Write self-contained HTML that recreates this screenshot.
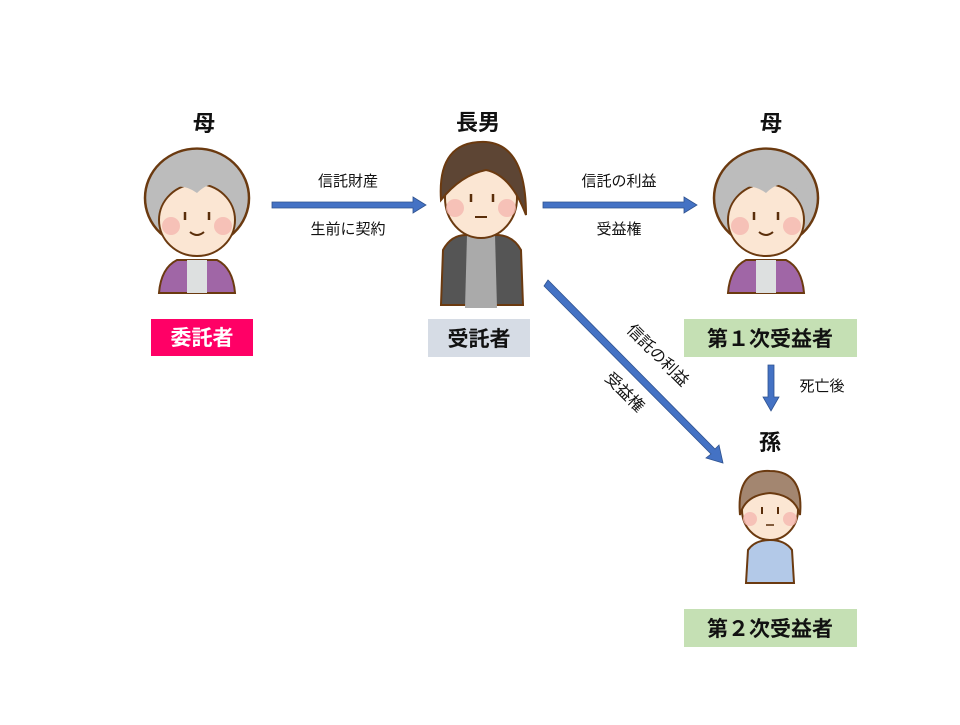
<!DOCTYPE html>
<html><head><meta charset="utf-8"><style>
body{margin:0;background:#fff;}
svg text{font-family:"Liberation Sans","Noto Sans CJK JP",sans-serif;}
</style></head><body>
<svg width="960" height="720" viewBox="0 0 960 720" xmlns="http://www.w3.org/2000/svg">
<rect width="960" height="720" fill="#fff"/>
<defs>
<g id="mom">
  <path d="M-38,95 Q-36,70 -20,62 L20,62 Q36,70 38,95 Z" fill="#a066a6" stroke="#6b3a10" stroke-width="2"/>
  <rect x="-10" y="62" width="20" height="33" fill="#dde0e0"/>
  <circle cx="0" cy="0" r="52" fill="#bcbcbc" stroke="#6b3a10" stroke-width="2.5" transform="scale(1,0.95)"/>
  <ellipse cx="0" cy="22" rx="38" ry="36" fill="#fbe6d3" stroke="#6b3a10" stroke-width="2"/>
  <path d="M-40,0 Q-20,-20 0,-5 Q20,-25 40,0 L40,-30 L-40,-30Z" fill="#bcbcbc"/>
  <circle cx="-26" cy="28" r="9" fill="#f5b8b0" opacity="0.8"/>
  <circle cx="26" cy="28" r="9" fill="#f5b8b0" opacity="0.8"/>
  <line x1="-12" y1="14" x2="-12" y2="22" stroke="#5a2e0a" stroke-width="2.5"/>
  <line x1="12" y1="14" x2="12" y2="22" stroke="#5a2e0a" stroke-width="2.5"/>
  <path d="M-7,34 Q0,40 7,34" fill="none" stroke="#5a2e0a" stroke-width="2"/>
</g>
</defs>
<g font-size="22" font-weight="bold" text-anchor="middle" fill="#111">
<text x="204" y="131">母</text>
<text x="478" y="130">長男</text>
<text x="771" y="131">母</text>
<text x="770" y="450">孫</text>
</g>
<use href="#mom" x="197" y="198"/>
<use href="#mom" x="766" y="198"/>
<g transform="translate(481,190)">
  <path d="M-40,115 L-38,60 Q-30,45 -15,45 L15,45 Q32,45 40,60 L42,115Z" fill="#555" stroke="#6b3a10" stroke-width="2"/>
  <path d="M-14,45 L14,45 L16,118 L-16,118Z" fill="#aaa"/>
  <ellipse cx="0" cy="8" rx="36" ry="40" fill="#fbe6d3" stroke="#6b3a10" stroke-width="2"/>
  <path d="M-40,10 Q-44,-50 5,-48 Q45,-45 45,25 Q30,-15 5,-20 Q-20,-15 -40,10Z" fill="#5d4534" stroke="#6b3a10" stroke-width="2"/>
  <circle cx="-26" cy="18" r="9" fill="#f5b8b0" opacity="0.8"/>
  <circle cx="26" cy="18" r="9" fill="#f5b8b0" opacity="0.8"/>
  <line x1="-10" y1="4" x2="-10" y2="12" stroke="#5a2e0a" stroke-width="2.5"/>
  <line x1="12" y1="4" x2="12" y2="12" stroke="#5a2e0a" stroke-width="2.5"/>
  <line x1="-6" y1="27" x2="6" y2="27" stroke="#5a2e0a" stroke-width="2"/>
</g>
<g transform="translate(770,505)">
  <path d="M-24,78 L-22,45 Q-15,35 0,35 Q15,35 22,45 L24,78Z" fill="#b3c9e8" stroke="#6b3a10" stroke-width="2"/>
  <ellipse cx="0" cy="5" rx="28" ry="30" fill="#fbe6d3" stroke="#6b3a10" stroke-width="2"/>
  <path d="M-30,10 Q-34,-36 0,-34 Q34,-34 30,10 Q25,-10 0,-12 Q-25,-10 -30,10Z" fill="#a38670" stroke="#6b3a10" stroke-width="2"/>
  <circle cx="-20" cy="14" r="7" fill="#f5b8b0" opacity="0.8"/>
  <circle cx="20" cy="14" r="7" fill="#f5b8b0" opacity="0.8"/>
  <line x1="-8" y1="2" x2="-8" y2="9" stroke="#5a2e0a" stroke-width="2"/>
  <line x1="8" y1="2" x2="8" y2="9" stroke="#5a2e0a" stroke-width="2"/>
  <line x1="-4" y1="20" x2="4" y2="20" stroke="#5a2e0a" stroke-width="1.5"/>
</g>
<rect x="151" y="319" width="102" height="37" fill="#ff0066"/>
<rect x="428" y="319" width="102" height="38" fill="#d6dce5"/>
<rect x="684" y="319" width="173" height="38" fill="#c5e0b4"/>
<rect x="684" y="609" width="173" height="38" fill="#c5e0b4"/>
<g font-size="21" font-weight="bold" text-anchor="middle">
<text x="202" y="345" fill="#fff">委託者</text>
<text x="479" y="346" fill="#111">受託者</text>
<text x="770" y="346" fill="#111">第１次受益者</text>
<text x="770" y="636" fill="#111">第２次受益者</text>
</g>
<g fill="#4472c4" stroke="#2f528f" stroke-width="0.8">
<path d="M272,202 L413,202 L413,197 L426,205 L413,213 L413,208 L272,208Z"/>
<path d="M543,202 L684,202 L684,197 L697,205 L684,213 L684,208 L543,208Z"/>
<path d="M768,365 L774,365 L774,397 L779,397 L771,411 L763,397 L768,397Z"/>
<path d="M544,286 L548,280 L715,449 L719,445 L723,463 L706,458 L711,454Z"/>
</g>
<g font-size="15" fill="#111" text-anchor="middle">
<text x="348" y="186">信託財産</text>
<text x="348" y="234">生前に契約</text>
<text x="619" y="186">信託の利益</text>
<text x="619" y="234">受益権</text>
<text x="822" y="391">死亡後</text>
<text x="0" y="0" font-size="16" transform="translate(654,359) rotate(45)">信託の利益</text>
<text x="0" y="0" font-size="16" transform="translate(621,396) rotate(45)">受益権</text>
</g>
</svg>
</body></html>
